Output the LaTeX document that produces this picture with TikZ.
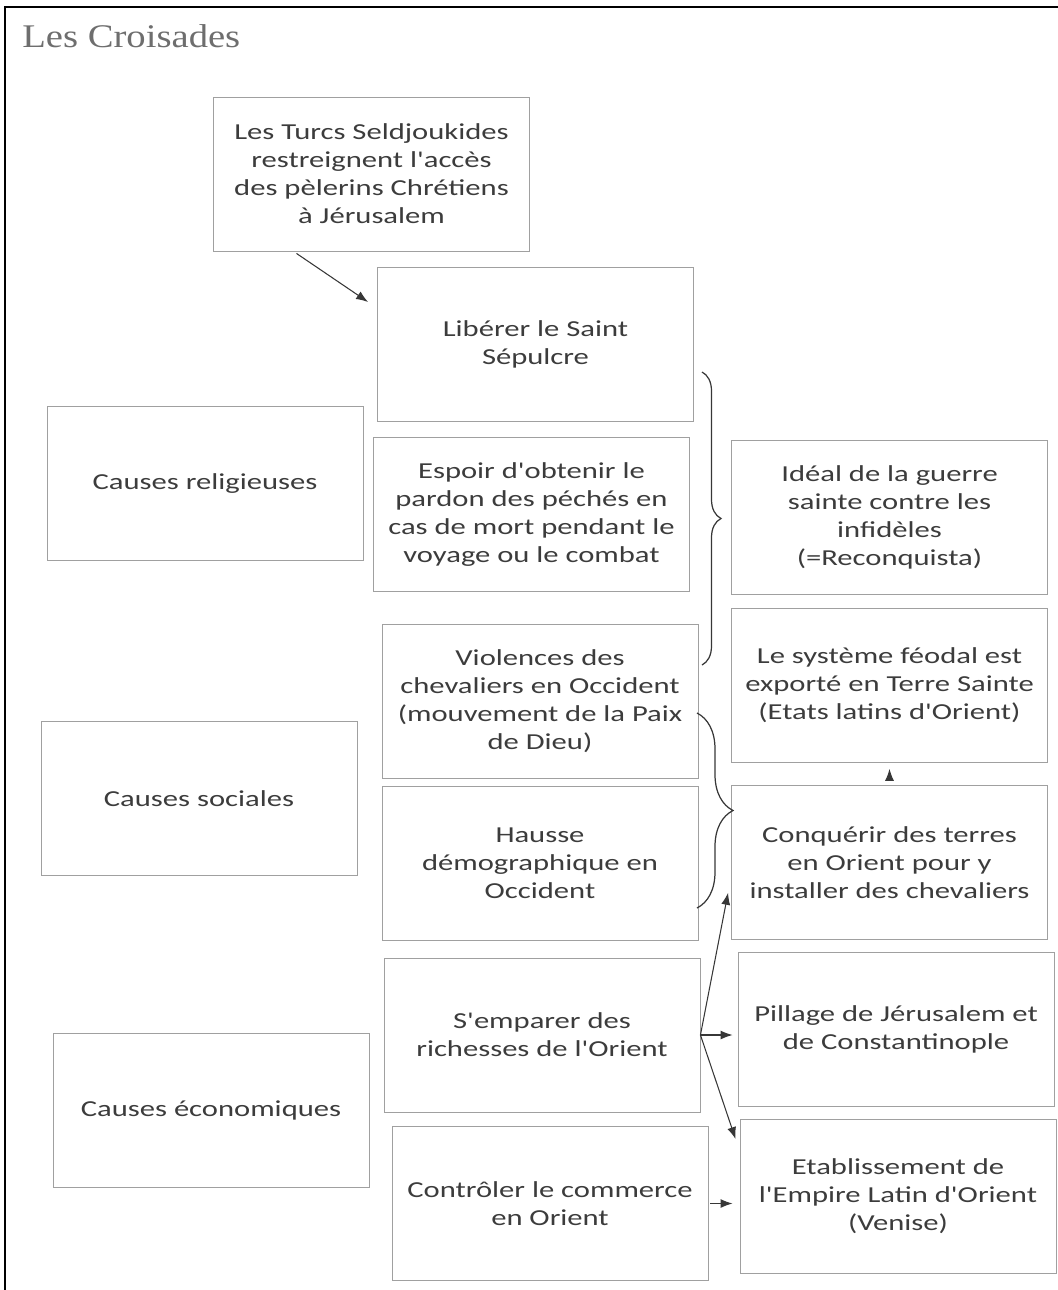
\documentclass[tikz,border=0pt]{standalone}
\usepackage{fontspec}
\setmainfont{Carlito}[FakeStretch=1.34, Ligatures=TeXOff]
\newfontfamily\titlefont{Liberation Serif}[FakeStretch=1.17]
\usetikzlibrary{positioning}
\usetikzlibrary{arrows.meta}
\usetikzlibrary{decorations.pathreplacing}
\definecolor{Txt}{RGB}{60,60,60}
\definecolor{Brd}{RGB}{160,160,160}
\definecolor{Ttl}{RGB}{110,110,110}
\definecolor{Lnk}{RGB}{55,55,55}

\begin{document}
\begin{tikzpicture}
    \tikzset{ bx/.style ={draw=Brd, line width=0.5pt, text=Txt, align=center, inner sep=0pt, minimum width=6.32cm, minimum height=3.08cm, font=\fontsize{13}{15.9}\selectfont} }
    \tikzset{ lnk/.style={draw=Lnk, line width=0.6pt} }
    \tikzset{ brc/.style={draw=Lnk, line width=0.7pt, decorate, decoration={brace, amplitude=#1}} }

    \useasboundingbox (0,0) rectangle (21.16,-25.8);
    \draw[black, line width=1.1pt] (0.10,-25.9) -- (0.10,-0.14) -- (21.3,-0.14);
    \node[anchor=base west, inner sep=0pt, text=Ttl, font=\titlefont\fontsize{18.8}{22}\selectfont] (ttl) at (0.44,-0.94) {Les Croisades};

    \node[bx                     ] (src)  at (7.43,-3.48)   {Les Turcs Seldjoukides\\restreignent l'accès\\des pèlerins Chrétiens\\à Jérusalem};
    \node[bx                     ] (mot1) at (10.71,-6.88)  {Libérer le Saint\\Sépulcre};
    \node[bx                     ] (mot2) at (10.63,-10.29) {Espoir d'obtenir le\\pardon des péchés en\\cas de mort pendant le\\voyage ou le combat};
    \node[bx                     ] (mot3) at (10.80,-14.03) {Violences des\\chevaliers en Occident\\(mouvement de la Paix\\de Dieu)};
    \node[bx, below=0.14cm of mot3] (mot4)                   {Hausse\\démographique en\\Occident};
    \node[bx                     ] (mot5) at (10.84,-20.70) {S'emparer des\\richesses de l'Orient};
    \node[bx                     ] (mot6) at (11.00,-24.07) {Contrôler le commerce\\en Orient};

    \node[bx                     ] (cau1) at (4.10,-9.67)   {Causes religieuses};
    \node[bx                     ] (cau2) at (3.98,-15.97)  {Causes sociales};
    \node[bx                     ] (cau3) at (4.22,-22.21)  {Causes économiques};

    \node[bx                     ] (con1) at (17.79,-10.35) {Idéal de la guerre\\sainte contre les\\infidèles\\(=Reconquista)};
    \node[bx, below=0.26cm of con1] (con2)                   {Le système féodal est\\exporté en Terre Sainte\\(Etats latins d'Orient)};
    \node[bx, below=0.44cm of con2] (con3)                   {Conquérir des terres\\en Orient pour y\\installer des chevaliers};
    \node[bx                     ] (con4) at (17.92,-20.59) {Pillage de Jérusalem et\\de Constantinople};
    \node[bx                     ] (con5) at (17.96,-23.93) {Etablissement de\\l'Empire Latin d'Orient\\(Venise)};

    \draw[lnk, ->, >={Latex[length=2.4mm,width=1.8mm]}] ([xshift=-1.5cm,yshift=-0.04cm]src.south) -- ([xshift=-0.18cm,yshift=0.84cm]mot1.west);
    \draw[lnk, ->, >={Latex[length=2.4mm,width=1.8mm]}] (mot5.east) -- ([xshift=-0.06cm,yshift=-0.61cm]con3.west);
    \draw[lnk, ->, >={Latex[length=2.4mm,width=1.8mm]}, shorten >=0.1cm] (mot5.east) -- (mot5.east -| con4.west);
    \draw[lnk, ->, >={Latex[length=2.4mm,width=1.8mm]}] (mot5.east) -- ([xshift=-0.08cm,yshift=-0.4cm]con5.north west);
    \draw[lnk, ->, >={Latex[length=2.4mm,width=1.8mm]}, shorten <=0.04cm, shorten >=0.14cm] (mot6.east) -- (mot6.east -| con5.west);
    \draw[lnk, ->, >={Latex[length=2.4mm,width=1.8mm]}, shorten <=0.1cm, shorten >=0.12cm] (con3.north) -- (con2.south);

    \draw[brc=0.38cm] (14.04,-7.44)  -- (14.04,-13.30);
    \draw[brc=0.72cm] (13.94,-14.26) -- (13.94,-18.16);
\end{tikzpicture}
\end{document}
